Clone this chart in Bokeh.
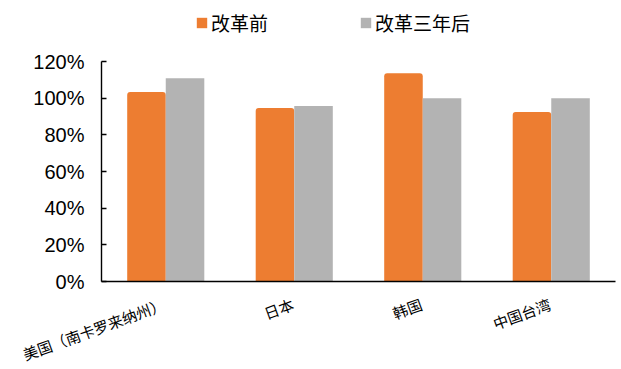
from bokeh.plotting import figure
from bokeh.models import (ColumnDataSource, Legend, LegendItem, Range1d,
                          Label, FixedTicker, NumeralTickFormatter)
from bokeh.embed import file_html
from bokeh.resources import INLINE

categories = ["美国（南卡罗来纳州）", "日本", "韩国", "中国台湾"]
before_reform = [1.033, 0.946, 1.136, 0.924]
three_years_after = [1.109, 0.957, 1.0, 1.0]
series_names = ["改革前", "改革三年后"]
y_ticks = [0, 0.2, 0.4, 0.6, 0.8, 1.0, 1.2]

ORANGE = "#ED7D31"
GRAY = "#B3B3B3"
CJK = "Noto Sans CJK SC"

# The frame covers the whole canvas; axes are pinned inside it.
W, H = 621, 369
ZERO_PX = 281      # screen row of 0%
TOP_PX = 61        # screen row of 120%
LEFT_PX = 101      # screen column of the value axis
RIGHT_PX = 615     # right end of the category axis
Y_MAX = 1.2
n = len(categories)
ppu_y = (ZERO_PX - TOP_PX) / Y_MAX
ppu_x = (RIGHT_PX - LEFT_PX) / n
y_start = -(H - ZERO_PX) / ppu_y
y_end = ZERO_PX / ppu_y
x_start = -0.5 - LEFT_PX / ppu_x
x_end = n - 0.5 + (W - RIGHT_PX) / ppu_x

idx = list(range(n))
src = ColumnDataSource(dict(
    x1=[i - 0.15 for i in idx],
    x2=[i + 0.15 for i in idx],
    a=before_reform,
    b=three_years_after,
))

p = figure(width=W, height=H, output_backend="svg", toolbar_location=None,
           x_range=Range1d(x_start, x_end), y_range=Range1d(y_start, y_end),
           min_border_left=0, min_border_right=0, min_border_top=0,
           min_border_bottom=0)
p.outline_line_color = None
p.xgrid.visible = False
p.ygrid.visible = False
p.background_fill_color = "white"
p.border_fill_color = "white"

r1 = p.vbar(x="x1", top="a", bottom=0, width=0.3, source=src, fill_color=ORANGE,
            line_color=None, border_radius=(3, 3, 0, 0))
r2 = p.vbar(x="x2", top="b", bottom=0, width=0.3, source=src, fill_color=GRAY,
            line_color=None)

# value axis, pinned at the left edge of the category area
ya = p.yaxis[0]
ya.fixed_location = -0.5
ya.bounds = (0, Y_MAX)
ya.ticker = FixedTicker(ticks=y_ticks)
ya.formatter = NumeralTickFormatter(format="0%")
ya.major_tick_in = 5
ya.major_tick_out = 0
ya.minor_tick_line_color = None
ya.axis_line_color = "black"
ya.axis_line_width = 1.4
ya.major_tick_line_color = "black"
ya.major_tick_line_width = 1.4
ya.major_label_text_font = "Liberation Sans"
ya.major_label_text_font_size = "20px"
ya.major_label_text_color = "black"
ya.major_label_standoff = 17

# category axis: only the line, pinned at 0%
xa = p.xaxis[0]
xa.fixed_location = 0
xa.bounds = (-0.5, n - 0.5)
xa.ticker = FixedTicker(ticks=[])
xa.major_tick_line_color = None
xa.minor_tick_line_color = None
xa.major_label_text_font_size = "0px"
xa.axis_line_color = "black"
xa.axis_line_width = 1.6

# rotated category labels, right end anchored near each category centre
for i, name in enumerate(categories):
    p.add_layout(Label(x=i, y=0, x_offset=-5, y_offset=-12, text=name,
                       angle=20, angle_units="deg", text_align="right",
                       text_baseline="top", text_font=CJK,
                       text_font_size="15px", text_color="black"))

legend = Legend(items=[LegendItem(label=series_names[0], renderers=[r1]),
                       LegendItem(label=series_names[1], renderers=[r2])],
                orientation="horizontal", location=(195, H - 36),
                glyph_width=13, glyph_height=13, label_standoff=3, spacing=91,
                padding=0, margin=0, border_line_color=None,
                background_fill_alpha=0, label_text_font=CJK,
                label_text_font_size="19px", label_text_color="black",
                label_height=20)
p.add_layout(legend)

open("out.html", "w").write(file_html(p, INLINE))
